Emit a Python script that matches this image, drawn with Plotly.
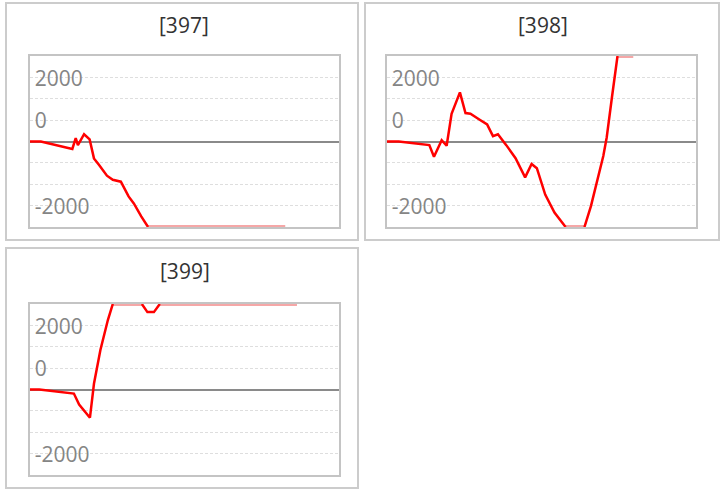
import plotly.graph_objects as go

# ---------------- data ----------------
TITLES = ["[397]", "[398]", "[399]"]

P397_X = [0, 3.5, 13.7, 14.8, 15.5, 17.5, 19.3, 20.7, 22.3, 24.9, 26.8, 29.4, 31.9, 33.6, 36.0, 38.2, 50, 60, 70, 82.6]
P397_Y = [0, 0, -350, 160, -170, 340, 100, -790, -1090, -1600, -1790, -1880, -2570, -2900, -3500, -4000, -4000, -4000, -4000, -4000]

P398_X = [0, 3.8, 13.7, 15.2, 17.7, 19.3, 20.9, 23.6, 25.4, 27.0, 30.0, 32.4, 34.3, 35.9, 38.6, 41.6, 44.7, 46.8, 48.5,
          51.2, 54.2, 57.8, 60.0, 63.9, 66.0, 70.0, 71.1, 72.8, 74.6, 77.0, 79.7]
P398_Y = [0, 0, -170, -710, 60, -200, 1300, 2300, 1330, 1300, 1020, 800, 250, 340, -170, -780, -1680, -1050, -1250,
          -2480, -3320, -4000, -4000, -4000, -3020, -680, 190, 2070, 4000, 4000, 4000]

P399_X = [0, 3.0, 14.2, 15.9, 19.4, 20.7, 22.8, 25.2, 26.8, 30.0, 36.2, 38.0, 40.1, 42.0, 50, 60, 70, 86.4]
P399_Y = [0, 0, -190, -700, -1320, 270, 1860, 3250, 4000, 4000, 4000, 3620, 3620, 4000, 4000, 4000, 4000, 4000]

SERIES = [(P397_X, P397_Y), (P398_X, P398_Y), (P399_X, P399_Y)]

Y_MIN, Y_MAX = -4000, 4000
TICK_VALS = [3000, 1000, -3000]
TICK_TEXT = ["2000", "0", "-2000"]

# ---------------- layout geometry (pixels) ----------------
W, H = 724, 493
FONT = "Open Sans"
PLOTS = [  # plot areas: x0, x1, y0(top), y1(bottom)
    (30, 339, 56, 227),
    (387, 696, 56, 227),
    (30, 339, 304, 475),
]
BOXES = [(6, 3, 358, 240), (365, 3, 719, 240), (6, 248, 358, 488)]
TITLE_POS = [(184, 25), (543, 25), (185, 271)]


def px_x(p):
    return p / W


def px_y(p):
    return 1 - p / H


def split_segments(xs, ys):
    red_x, red_y, pink_x, pink_y = [], [], [], []
    for i in range(len(xs) - 1):
        a_clip = ys[i] <= Y_MIN or ys[i] >= Y_MAX
        b_clip = ys[i + 1] <= Y_MIN or ys[i + 1] >= Y_MAX
        if a_clip and b_clip:
            tx, ty = pink_x, pink_y
        else:
            tx, ty = red_x, red_y
        if tx and tx[-1] == xs[i] and ty[-1] == ys[i]:
            tx.append(xs[i + 1]); ty.append(ys[i + 1])
        else:
            if tx:
                tx.append(None); ty.append(None)
            tx += [xs[i], xs[i + 1]]; ty += [ys[i], ys[i + 1]]
    return red_x, red_y, pink_x, pink_y


fig = go.Figure()
layout = dict(
    width=W, height=H, margin=dict(l=0, r=0, t=0, b=0),
    paper_bgcolor="white", plot_bgcolor="white", showlegend=False,
    font=dict(family=FONT),
)

shapes, annotations = [], []
for k, ((xs, ys), (x0, x1, y0, y1)) in enumerate(zip(SERIES, PLOTS)):
    sfx = "" if k == 0 else str(k + 1)
    rx, ry, pxs, pys = split_segments(xs, ys)
    fig.add_trace(go.Scatter(x=pxs, y=pys, mode="lines", xaxis="x" + sfx, yaxis="y" + sfx,
                             line=dict(color="rgba(240,120,120,0.65)", width=4), hoverinfo="skip"))
    fig.add_trace(go.Scatter(x=rx, y=ry, mode="lines", xaxis="x" + sfx, yaxis="y" + sfx,
                             line=dict(color="#ff0000", width=2.5)))
    layout["xaxis" + sfx] = dict(
        domain=[px_x(x0), px_x(x1)], range=[0, 100], anchor="y" + sfx,
        showgrid=False, zeroline=False, showticklabels=False, ticks="",
        showline=True, linecolor="#c4c4c4", linewidth=2, mirror=True, fixedrange=True,
    )
    layout["yaxis" + sfx] = dict(
        domain=[px_y(y1), px_y(y0)], range=[Y_MIN, Y_MAX], anchor="x" + sfx,
        tickmode="array", tickvals=TICK_VALS, ticktext=TICK_TEXT,
        ticklabelposition="inside", ticks="", ticklabelstandoff=6, ticklabelshift=1,
        tickfont=dict(family=FONT, size=21, color="#858585"),
        showgrid=True, gridcolor="#dedede", gridwidth=1, griddash="3px,2px",
        minor=dict(dtick=1000, tick0=0, showgrid=True, gridcolor="#dedede", gridwidth=1, griddash="3px,2px"),
        zeroline=True, zerolinecolor="#8a8a8a", zerolinewidth=2,
        showline=True, linecolor="#c4c4c4", linewidth=2, mirror=True, fixedrange=True,
    )
    bx0, by0, bx1, by1 = BOXES[k]
    shapes.append(dict(type="rect", xref="paper", yref="paper",
                       x0=px_x(bx0), x1=px_x(bx1), y0=px_y(by1), y1=px_y(by0),
                       line=dict(color="#cccccc", width=2), layer="below"))
    tx, ty = TITLE_POS[k]
    annotations.append(dict(text=TITLES[k], xref="paper", yref="paper", x=px_x(tx), y=px_y(ty),
                            xanchor="center", yanchor="middle", showarrow=False,
                            font=dict(family=FONT, size=21, color="#333333")))

layout["shapes"] = shapes
layout["annotations"] = annotations
fig.update_layout(**layout)
fig.write_html("out.html", config={"displayModeBar": False},
               post_script="document.body.style.margin='0';")
